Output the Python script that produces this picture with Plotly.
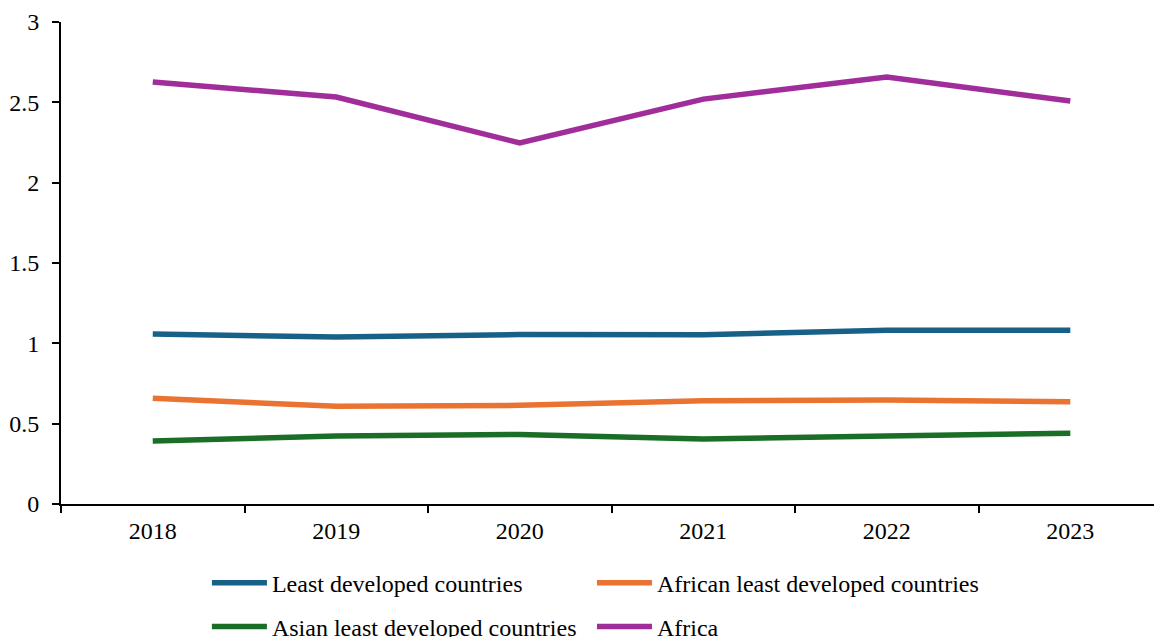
import plotly.graph_objects as go

years = ["2018", "2019", "2020", "2021", "2022", "2023"]
ldc = [1.058, 1.039, 1.055, 1.054, 1.081, 1.082]
african_ldc = [0.658, 0.608, 0.614, 0.642, 0.647, 0.636]
asian_ldc = [0.392, 0.423, 0.433, 0.404, 0.423, 0.440]
africa = [2.627, 2.533, 2.247, 2.520, 2.658, 2.508]

# (name, values, colour, legend id, legend x, legend y)
series = [
    ("Least developed countries", ldc, "#176188", "legend", 0.1335, -0.164),
    ("African least developed countries", african_ldc, "#EB7331", "legend2", 0.4858, -0.164),
    ("Asian least developed countries", asian_ldc, "#1A6E26", "legend3", 0.1335, -0.255),
    ("Africa", africa, "#A02D99", "legend4", 0.4858, -0.255),
]

font_family = "Liberation Serif, Times New Roman, serif"
tick_font = dict(family=font_family, size=24, color="black")

fig = go.Figure()
legends = {}
for name, vals, color, leg, lx, ly in series:
    fig.add_trace(go.Scatter(
        x=years, y=vals, name=name, mode="lines",
        line=dict(color=color, width=5.5),
        legend=leg,
    ))
    legends[leg] = dict(
        x=lx, y=ly, orientation="h", xanchor="left", yanchor="middle",
        font=tick_font, itemwidth=55, bgcolor="rgba(0,0,0,0)",
    )

fig.update_layout(
    width=1154, height=637,
    margin=dict(l=61, r=0, t=22, b=133, autoexpand=False),
    paper_bgcolor="white", plot_bgcolor="white",
    font=dict(family=font_family, size=24, color="black"),
    showlegend=True,
    **legends,
)
fig.update_xaxes(
    type="category", range=[-0.5, 5.456], tickson="boundaries",
    showline=True, linecolor="black", linewidth=2,
    ticks="outside", ticklen=7, tickwidth=2, tickcolor="black",
    showgrid=False, zeroline=False, automargin=False,
    ticklabelstandoff=4,
    tickfont=tick_font,
)
fig.update_yaxes(
    range=[0, 3], dtick=0.5,
    showline=True, linecolor="black", linewidth=2,
    ticks="outside", ticklen=7, tickwidth=2, tickcolor="black",
    showgrid=False, zeroline=False, automargin=False,
    ticklabelstandoff=8,
    tickfont=tick_font,
)

fig.write_html("out.html")
